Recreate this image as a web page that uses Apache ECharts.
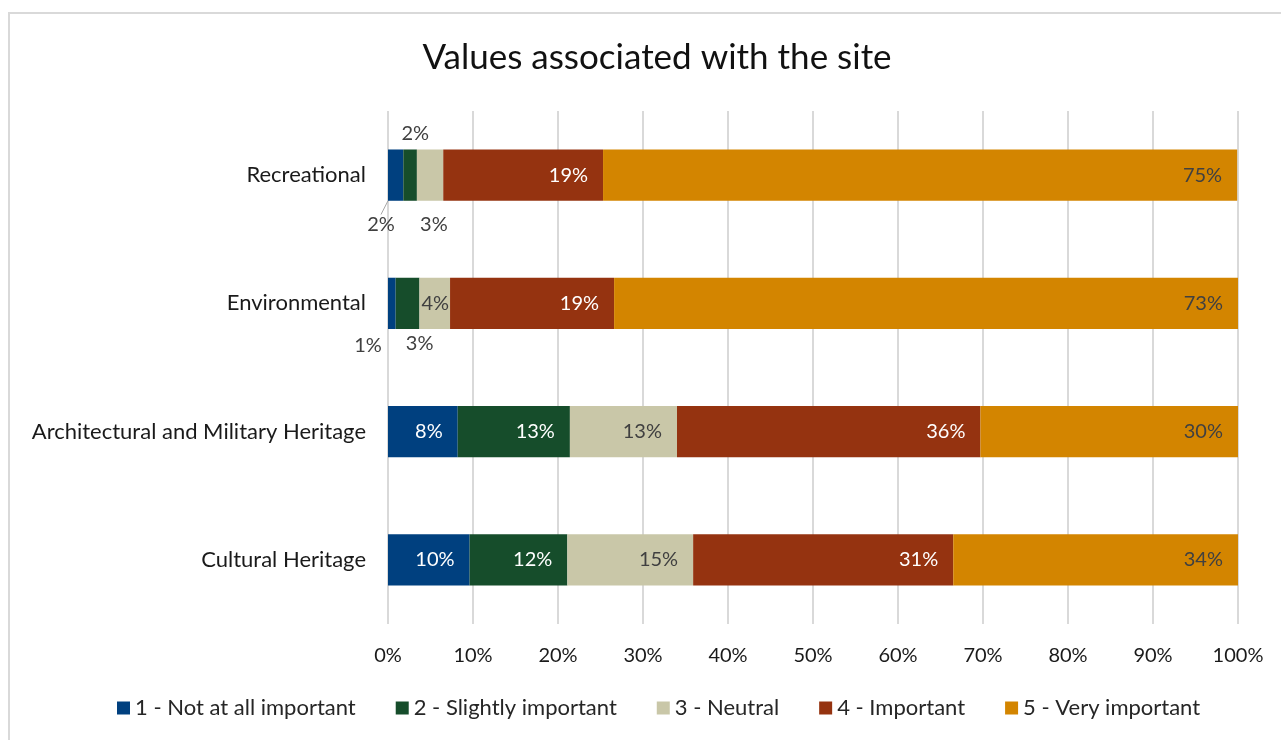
<!DOCTYPE html>
<html>
<head>
<meta charset="utf-8">
<script src="https://cdn.jsdelivr.net/npm/echarts@6/dist/echarts.min.js"></script>
<style>
  html, body { margin: 0; padding: 0; background: #fff; }
  #chart-container { width: 1281px; height: 740px; }
</style>
</head>
<body>
<div id="chart-container"></div>
<script>
// categories, bottom to top (as ECharts draws a category y axis)
var categories = ["Cultural Heritage", "Architectural and Military Heritage", "Environmental", "Recreational"];
var seriesNames = ["1 - Not at all important", "2 - Slightly important", "3 - Neutral", "4 - Important", "5 - Very important"];

// percentages
var notAtAll  = [9.6, 8.2, 0.9, 1.8];
var slightly  = [11.5, 13.2, 2.8, 1.6];
var neutral   = [14.8, 12.6, 3.6, 3.1];
var important = [30.6, 35.7, 19.3, 18.8];
var veryImp   = [33.5, 30.3, 73.4, 74.6];

var xTicks = [0, 10, 20, 30, 40, 50, 60, 70, 80, 90, 100];

var colors = ["#00407f", "#164d2b", "#c9c7a8", "#953310", "#d38500"];
var labelColors = ["#ffffff", "#ffffff", "#404040", "#ffffff", "#404040"];
var FONT = "Lato";

// labels of the thin segments sit outside the bar
var labelTweaks = {
  "0-3": { position: [-7, 75], line: true },
  "1-3": { position: [12, -16] },
  "2-3": { position: [17, 75] },
  "0-2": { position: [-20, 68] },
  "1-2": { position: [24, 66] },
  "2-2": { distance: 1 }
};

var dom = document.getElementById("chart-container");
var myChart = echarts.init(dom, null, { renderer: "canvas" });

function buildSeries(values, si) {
  var data = values.map(function (v, di) {
    var t = labelTweaks[si + "-" + di];
    if (!t) return v;
    var item = { value: v, label: {} };
    if (t.position) {
      item.label = { position: t.position, align: "center", verticalAlign: "middle", color: "#404040" };
    }
    if (t.distance !== undefined) item.label.distance = t.distance;
    if (t.line) item.labelLine = { show: true, lineStyle: { color: "#a6a6a6", width: 1 } };
    return item;
  });
  return {
    name: seriesNames[si],
    type: "bar",
    stack: "total",
    barWidth: "40%",
    itemStyle: { color: colors[si] },
    label: {
      show: true,
      position: "insideRight",
      distance: 15,
      color: labelColors[si],
      fontFamily: FONT,
      fontSize: 20,
      formatter: function (p) { return Math.round(p.value) + "%"; }
    },
    labelLine: { show: false },
    emphasis: { disabled: true },
    data: data
  };
}

var option = {
  animation: false,
  textStyle: { fontFamily: FONT },
  color: colors,
  title: {
    text: "Values associated with the site",
    left: 652,
    top: 35,
    textAlign: "center",
    textStyle: { fontFamily: FONT, fontSize: 35, fontWeight: "normal", color: "#111" }
  },
  legend: {
    bottom: 16,
    left: 112,
    itemWidth: 13,
    itemHeight: 13,
    itemGap: 40,
    icon: "rect",
    textStyle: { fontFamily: FONT, fontSize: 22, color: "#262626" },
    data: seriesNames
  },
  grid: { left: 388, right: 43, top: 111, bottom: 116 },
  xAxis: {
    type: "value",
    min: xTicks[0],
    max: xTicks[xTicks.length - 1],
    interval: 10,
    axisLine: { show: false },
    axisTick: { show: false },
    axisLabel: { color: "#1a1a1a", fontSize: 20, fontFamily: FONT, margin: 22, formatter: "{value}%" },
    splitLine: { lineStyle: { color: "#d9d9d9", width: 2 } }
  },
  yAxis: {
    type: "category",
    data: categories,
    axisLine: { show: false },
    axisTick: { show: false },
    axisLabel: { color: "#1a1a1a", fontSize: 22, fontFamily: FONT, margin: 22 }
  },
  graphic: [{
    type: "rect",
    shape: { x: 9, y: 13, width: 1300, height: 760 },
    style: { fill: null, stroke: "#d9d9d9", lineWidth: 2 },
    silent: true
  }],
  series: [notAtAll, slightly, neutral, important, veryImp].map(buildSeries)
};

myChart.setOption(option);
</script>
</body>
</html>
